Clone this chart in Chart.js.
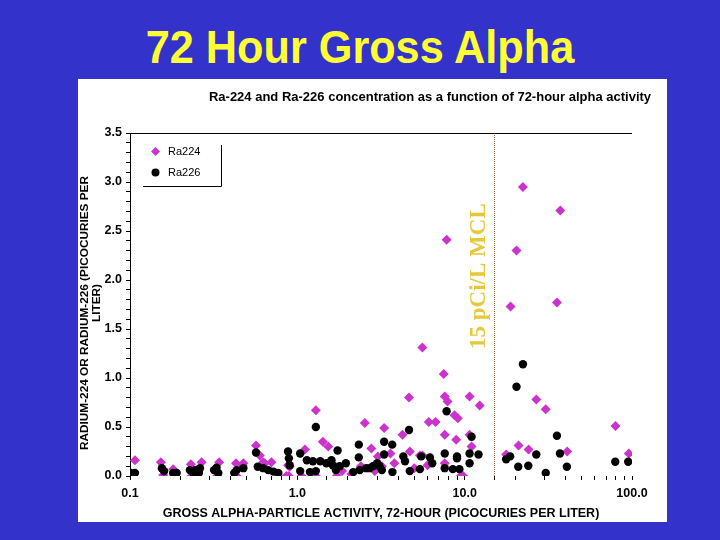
<!DOCTYPE html>
<html>
<head>
<meta charset="utf-8">
<title>72 Hour Gross Alpha</title>
<script src="https://cdn.jsdelivr.net/npm/chart.js@4.4.1/dist/chart.umd.min.js"></script>
<style>
    html, body { margin: 0; padding: 0; }
    body {
        width: 720px; height: 540px; overflow: hidden; position: relative;
        background: #3333cc;
        font-family: "Liberation Sans", Arial, sans-serif;
    }
    #title {
        position: absolute; left: 0; top: 19px; width: 720px;
        text-align: center; color: #ffff33;
        font-weight: bold; font-size: 47px; line-height: 56px;
        transform: scaleX(0.92);
    }
    #panel {
        position: absolute; left: 78px; top: 79px;
        width: 589px; height: 443px; background: #ffffff;
    }
</style>
</head>
<body>
<div id="title">72 Hour Gross Alpha</div>
<div id="panel"><canvas id="chart" width="589" height="443"></canvas></div>
<script>
// Gross alpha activity (pCi/L) and radium concentration (pCi/L)
const ra224Alpha = [0.107, 0.153, 0.158, 0.181, 0.231, 0.268, 0.233, 0.25, 0.341, 0.332,
    0.43, 0.476, 0.434, 0.47, 0.566, 0.597, 0.625, 0.7, 0.64, 0.88,
    0.89, 0.86, 0.9, 1.06, 1.11, 1.29, 1.29, 1.42, 1.53, 1.72,
    1.6, 1.85, 2.1, 2.53, 2.77, 3.03, 2.4, 3.3, 3.6, 3.8,
    4.25, 4.65, 4.7, 5.4, 5.6, 5.59, 6.0, 6.1, 6.7, 7.5,
    7.6, 7.9, 7.6, 7.6, 7.8, 8.7, 9.1, 8.9, 9.5, 9.8,
    10.7, 12.3, 10.7, 11.0, 3.2, 2.9, 5.0, 17.7, 18.8, 20.4,
    21.0, 22.3, 24.1, 26.8, 30.5, 35.6, 37.3, 41.0, 79.7, 95.7];
const ra224Conc = [0.16, 0.14, 0.01, 0.07, 0.12, 0.14, 0.0, 0.01, 0.14, 0.0,
    0.13, 0.13, 0.0, 0.11, 0.31, 0.21, 0.14, 0.14, 0.13, 0.11,
    0.0, 0.0, 0.095, 0.0, 0.27, 0.67, 0.0, 0.35, 0.30, 0.0,
    0.12, 0.05, 0.02, 0.54, 0.28, 0.20, 0.10, 0.49, 0.23, 0.13,
    0.42, 0.80, 0.25, 0.21, 0.21, 1.31, 0.11, 0.55, 0.55, 1.04,
    0.81, 0.76, 0.42, 0.13, 2.41, 0.62, 0.59, 0.37, 0.0, 0.0,
    0.81, 0.72, 0.42, 0.30, 0.10, 0.05, 0.08, 0.22, 1.73, 2.30,
    0.31, 2.95, 0.27, 0.78, 0.68, 1.77, 2.71, 0.25, 0.51, 0.23];

const ra226Alpha = [0.101, 0.107, 0.155, 0.16, 0.181, 0.19, 0.228, 0.245, 0.262, 0.239,
    0.258, 0.318, 0.329, 0.337, 0.434, 0.476, 0.42, 0.566, 0.58, 0.625,
    0.67, 0.72, 0.77, 0.88, 0.89, 0.9, 1.04, 1.14, 1.24, 1.37,
    1.49, 1.63, 1.79, 1.04, 1.19, 1.29, 1.29, 1.74, 1.6, 1.7,
    2.16, 2.33, 2.33, 2.36, 2.58, 2.83, 3.1, 3.0, 3.2, 3.3,
    3.3, 3.69, 3.7, 4.3, 4.4, 4.65, 4.7, 5.4, 5.5, 6.2,
    6.4, 7.6, 7.6, 7.8, 8.5, 9.0, 9.0, 9.3, 10.7, 10.7,
    11.0, 12.1, 2.7, 1.95, 17.7, 18.7, 20.4, 20.9, 22.3, 24.0,
    26.8, 30.5, 35.6, 37.1, 40.8, 79.4, 94.9];
const ra226Conc = [0.03, 0.03, 0.08, 0.05, 0.03, 0.03, 0.06, 0.06, 0.08, 0.03,
    0.03, 0.06, 0.085, 0.03, 0.06, 0.08, 0.03, 0.24, 0.095, 0.08,
    0.06, 0.045, 0.03, 0.25, 0.18, 0.11, 0.23, 0.16, 0.15, 0.15,
    0.13, 0.11, 0.10, 0.05, 0.04, 0.50, 0.05, 0.26, 0.16, 0.06,
    0.04, 0.32, 0.19, 0.06, 0.08, 0.10, 0.10, 0.13, 0.06, 0.35,
    0.22, 0.32, 0.04, 0.20, 0.15, 0.47, 0.05, 0.07, 0.20, 0.19,
    0.13, 0.23, 0.08, 0.66, 0.07, 0.20, 0.18, 0.07, 0.23, 0.13,
    0.40, 0.22, 0.08, 0.13, 0.17, 0.20, 0.91, 0.095, 1.14, 0.105,
    0.22, 0.03, 0.41, 0.23, 0.095, 0.146, 0.146];

const seriesNames = ['Ra224', 'Ra226'];
const mclValue = 15;      // 15 pCi/L gross alpha MCL
const mclLabelAt = 2.04;  // concentration level where the label is centred

const chartTitle = 'Ra-224 and Ra-226 concentration as a function of 72-hour alpha activity';
const xTitle = 'GROSS ALPHA-PARTICLE ACTIVITY, 72-HOUR (PICOCURIES PER LITER)';
const yTitle = ['RADIUM-224 OR RADIUM-226 (PICOCURIES PER', 'LITER)'];

const SANS = '"Liberation Sans", Arial, sans-serif';
const SERIF = '"Liberation Serif", "Times New Roman", serif';
const PINK = '#cc33cc';

function toPoints(xs, ys) {
    return xs.map((x, i) => ({ x: x, y: ys[i] }));
}

// Draw a marker the same way for the plot and the legend
function drawMarker(ctx, style, x, y, r, color) {
    ctx.fillStyle = color;
    ctx.beginPath();
    if (style === 'diamond') {
        ctx.moveTo(x, y - r);
        ctx.lineTo(x + r, y);
        ctx.lineTo(x, y + r);
        ctx.lineTo(x - r, y);
        ctx.closePath();
    } else {
        ctx.arc(x, y, r, 0, Math.PI * 2);
    }
    ctx.fill();
}

// Extra drawing: MCL line, frame top, titles and legend
const decorPlugin = {
    id: 'decor',
    beforeDatasetsDraw(chart) {
        const { ctx, chartArea, scales } = chart;
        const x = Math.round(scales.x.getPixelForValue(mclValue)) + 0.5;
        ctx.save();
        ctx.strokeStyle = '#9c6a3a';
        ctx.lineWidth = 1;
        ctx.setLineDash([1, 1]);
        ctx.beginPath();
        ctx.moveTo(x, chartArea.top);
        ctx.lineTo(x, chartArea.bottom);
        ctx.stroke();
        ctx.setLineDash([]);

        ctx.translate(x - 15, scales.y.getPixelForValue(mclLabelAt));
        ctx.rotate(-Math.PI / 2);
        ctx.fillStyle = '#e6c83c';
        ctx.font = 'bold 23px ' + SERIF;
        ctx.textAlign = 'center';
        ctx.textBaseline = 'middle';
        ctx.fillText('15 pCi/L MCL', 0, 0);
        ctx.restore();
    },
    afterDraw(chart) {
        const { ctx, chartArea } = chart;
        ctx.save();
        // top frame line
        ctx.strokeStyle = '#000';
        ctx.lineWidth = 1;
        ctx.beginPath();
        ctx.moveTo(chartArea.left, chartArea.top + 0.5);
        ctx.lineTo(chartArea.right, chartArea.top + 0.5);
        ctx.stroke();

        // chart title
        ctx.fillStyle = '#000';
        ctx.font = 'bold 13px ' + SANS;
        ctx.textAlign = 'center';
        ctx.textBaseline = 'middle';
        ctx.fillText(chartTitle, 352, 18);

        // y axis title, two rotated lines
        ctx.font = 'bold 11.8px ' + SANS;
        ctx.save();
        ctx.translate(7, 234);
        ctx.rotate(-Math.PI / 2);
        ctx.fillText(yTitle[0], 0, 0);
        ctx.restore();
        ctx.save();
        ctx.translate(19, 224);
        ctx.rotate(-Math.PI / 2);
        ctx.fillText(yTitle[1], 0, 0);
        ctx.restore();

        // legend box (right and bottom edges only)
        ctx.beginPath();
        ctx.moveTo(65, 107.5);
        ctx.lineTo(143.5, 107.5);
        ctx.lineTo(143.5, 66);
        ctx.stroke();

        drawMarker(ctx, 'diamond', 77.5, 72.5, 4.5, PINK);
        drawMarker(ctx, 'circle', 77.5, 93.5, 4, '#000');
        ctx.fillStyle = '#000';
        ctx.font = '11px ' + SANS;
        ctx.textAlign = 'left';
        ctx.fillText(seriesNames[0], 90, 73);
        ctx.fillText(seriesNames[1], 90, 94);
        ctx.restore();
    }
};

function isDecade(v) {
    const e = Math.log10(v);
    return Math.abs(e - Math.round(e)) < 1e-9;
}

const ctx = document.getElementById('chart').getContext('2d');
const chart = new Chart(ctx, {
    type: 'scatter',
    data: {
        datasets: [{
            label: seriesNames[0],
            data: toPoints(ra224Alpha, ra224Conc),
            pointStyle: 'rectRot',
            pointRadius: 5,
            backgroundColor: PINK,
            borderColor: PINK,
            borderWidth: 0,
            order: 2
        }, {
            label: seriesNames[1],
            data: toPoints(ra226Alpha, ra226Conc),
            pointStyle: 'circle',
            pointRadius: 4.2,
            backgroundColor: '#000',
            borderColor: '#000',
            borderWidth: 0,
            order: 1
        }]
    },
    options: {
        responsive: false,
        animation: false,
        events: [],
        layout: { padding: { top: 54, right: 35, left: 0, bottom: 0 } },
        plugins: {
            legend: { display: false },
            tooltip: { enabled: false },
            title: { display: false }
        },
        scales: {
            x: {
                type: 'logarithmic',
                min: 0.1,
                max: 100,
                border: { display: false },
                grid: { drawOnChartArea: false, drawTicks: true, tickLength: 4, color: '#000' },
                ticks: {
                    autoSkip: false,
                    maxRotation: 0,
                    padding: 6,
                    color: '#000',
                    font: { family: SANS, size: 12.5, weight: 'bold' },
                    callback: function(value) {
                        return isDecade(value) ? Number(value).toFixed(1) : '';
                    }
                },
                title: {
                    display: true,
                    text: xTitle,
                    color: '#000',
                    font: { family: SANS, size: 12.5, weight: 'bold', lineHeight: 1.2 },
                    padding: { top: 0, bottom: 1 }
                },
                afterFit: function(scale) { scale.height = 46; }
            },
            y: {
                min: 0,
                max: 3.5,
                border: { display: true, color: '#000', width: 1 },
                grid: { drawOnChartArea: false, drawTicks: true, tickLength: 4, color: '#000' },
                ticks: {
                    stepSize: 0.1,
                    autoSkip: false,
                    padding: 4,
                    color: '#000',
                    font: { family: SANS, size: 12.5, weight: 'bold' },
                    callback: function(value) {
                        const t = Math.round(value * 10);
                        return t % 5 === 0 ? (t / 10).toFixed(1) : '';
                    }
                },
                title: { display: false },
                afterFit: function(scale) { scale.width = 52; }
            }
        }
    },
    plugins: [decorPlugin]
});
</script>
</body>
</html>
